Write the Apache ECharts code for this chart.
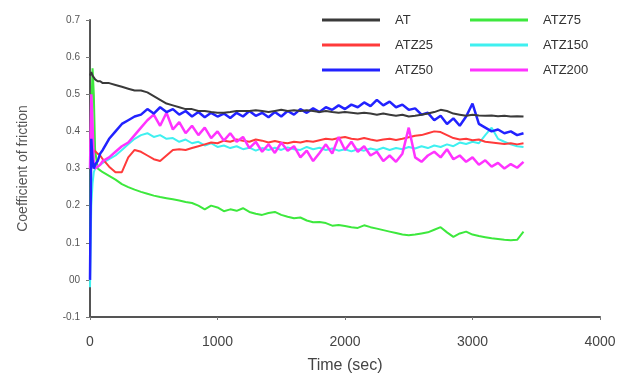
<!DOCTYPE html>
<html>
<head>
<meta charset="utf-8">
<script src="https://cdn.jsdelivr.net/npm/echarts@6/dist/echarts.min.js"></script>
<style>
  html, body { margin: 0; padding: 0; background: #fff; }
  #chart { width: 629px; height: 375px; }
</style>
</head>
<body>
<div id="chart"></div>
<script>
  // sample times (sec)
  const times = [
    0, 10, 20, 30, 40, 60, 80, 100, 150, 200,
    250, 300, 350, 400, 450, 500, 550, 600, 650, 700,
    750, 800, 850, 900, 950, 1000, 1050, 1100, 1150, 1200,
    1250, 1300, 1350, 1400, 1450, 1500, 1550, 1600, 1650, 1700,
    1750, 1800, 1850, 1900, 1950, 2000, 2050, 2100, 2150, 2200,
    2250, 2300, 2350, 2400, 2450, 2500, 2550, 2600, 2650, 2700,
    2750, 2800, 2850, 2900, 2950, 3000, 3050, 3100, 3150, 3200,
    3250, 3300, 3350, 3400
  ];

  const atValues = [
    0.55, 0.56, 0.55, 0.545, 0.54, 0.535, 0.535, 0.53, 0.53, 0.525,
    0.52, 0.515, 0.51, 0.51, 0.505, 0.495, 0.485, 0.475, 0.47, 0.465,
    0.46, 0.46, 0.455, 0.455, 0.452, 0.45, 0.45, 0.452, 0.455, 0.455,
    0.455, 0.457, 0.455, 0.452, 0.455, 0.458, 0.455, 0.457, 0.455, 0.457,
    0.455, 0.452, 0.455, 0.452, 0.45, 0.452, 0.45, 0.448, 0.45, 0.448,
    0.445, 0.448, 0.445, 0.442, 0.445, 0.44, 0.442, 0.445, 0.448, 0.452,
    0.458, 0.455, 0.448, 0.445, 0.442, 0.445, 0.443, 0.442, 0.443, 0.441,
    0.442, 0.44, 0.441, 0.44
  ];

  const atz25Values = [
    0.30, 0.31, 0.33, 0.35, 0.345, 0.34, 0.335, 0.325, 0.305, 0.29,
    0.29, 0.33, 0.35, 0.345, 0.335, 0.325, 0.32, 0.335, 0.35, 0.352,
    0.35, 0.355, 0.36, 0.365, 0.37, 0.368, 0.375, 0.372, 0.378, 0.375,
    0.372, 0.378, 0.375, 0.37, 0.374, 0.37, 0.368, 0.372, 0.37, 0.374,
    0.372, 0.376, 0.38, 0.378, 0.382, 0.385, 0.38, 0.378, 0.382, 0.378,
    0.375, 0.378, 0.38, 0.377, 0.38, 0.384, 0.388, 0.39, 0.395, 0.4,
    0.398, 0.39, 0.382, 0.378, 0.38, 0.376, 0.378, 0.372, 0.37, 0.368,
    0.366, 0.368, 0.365, 0.368
  ];

  const atz50Values = [
    0.0, 0.38, 0.32, 0.30, 0.31, 0.32, 0.34, 0.35, 0.38, 0.40,
    0.42, 0.43, 0.44, 0.445, 0.46, 0.448, 0.465, 0.452, 0.46, 0.445,
    0.455, 0.44, 0.452, 0.438, 0.45, 0.44, 0.448, 0.436, 0.45, 0.44,
    0.455, 0.442, 0.45, 0.438, 0.452, 0.44, 0.455, 0.445, 0.46, 0.45,
    0.462, 0.452, 0.465, 0.458, 0.47, 0.46, 0.472, 0.465, 0.478, 0.468,
    0.485, 0.47, 0.48, 0.465, 0.472, 0.458, 0.462, 0.445, 0.45, 0.43,
    0.442, 0.42, 0.435, 0.415, 0.44, 0.475, 0.42, 0.41, 0.40, 0.405,
    0.395, 0.40, 0.39, 0.395
  ];

  const atz75Values = [
    0.10, 0.45, 0.57, 0.50, 0.35, 0.30, 0.295, 0.29, 0.28, 0.27,
    0.258, 0.25, 0.243, 0.237, 0.232, 0.227, 0.223, 0.22, 0.217, 0.214,
    0.21, 0.207, 0.20, 0.19, 0.20, 0.195, 0.185, 0.19, 0.186, 0.193,
    0.183, 0.178, 0.175, 0.18, 0.183, 0.175, 0.17, 0.166, 0.168, 0.16,
    0.155, 0.156, 0.153, 0.146, 0.148, 0.145, 0.142, 0.14, 0.147, 0.142,
    0.138, 0.134, 0.13, 0.126, 0.122, 0.12, 0.122, 0.125, 0.128, 0.135,
    0.142, 0.128, 0.116, 0.125, 0.13, 0.122, 0.118, 0.115, 0.112, 0.11,
    0.108, 0.107, 0.108, 0.13
  ];

  const atz150Values = [
    -0.02, 0.20, 0.26, 0.29, 0.30, 0.305, 0.31, 0.315, 0.325, 0.335,
    0.35, 0.365, 0.38, 0.39, 0.395, 0.385, 0.39, 0.38, 0.382, 0.372,
    0.378, 0.368, 0.372, 0.362, 0.368, 0.358, 0.362, 0.355, 0.36, 0.352,
    0.356, 0.348, 0.355, 0.35, 0.356, 0.35, 0.357, 0.352, 0.35, 0.358,
    0.352, 0.356, 0.35, 0.354, 0.348, 0.352, 0.346, 0.352, 0.348, 0.354,
    0.35, 0.356, 0.35, 0.355, 0.352, 0.358, 0.354, 0.36, 0.355, 0.362,
    0.358, 0.365, 0.36, 0.37, 0.366, 0.372, 0.368, 0.39, 0.41, 0.38,
    0.372, 0.365, 0.36, 0.358
  ];

  const atz200Values = [
    0.30, 0.50, 0.42, 0.31, 0.30, 0.305, 0.31, 0.32, 0.33, 0.345,
    0.36, 0.37, 0.39, 0.41, 0.43, 0.445, 0.415, 0.45, 0.405, 0.425,
    0.395, 0.415, 0.39, 0.41, 0.382, 0.40, 0.375, 0.395, 0.372, 0.385,
    0.355, 0.372, 0.345, 0.365, 0.342, 0.37, 0.348, 0.36, 0.33, 0.348,
    0.32, 0.342, 0.365, 0.34, 0.385, 0.35, 0.372, 0.345, 0.36, 0.335,
    0.345, 0.32, 0.335, 0.318, 0.34, 0.41, 0.33, 0.318, 0.335, 0.345,
    0.33, 0.352, 0.325, 0.335, 0.318, 0.33, 0.31, 0.322, 0.305, 0.315,
    0.30, 0.312, 0.302, 0.318
  ];

  const yTickLabels = { "-0.1": "-0.1", "0": "00" };

  const chart = echarts.init(document.getElementById("chart"));
  const font = "Liberation Sans, Arial, sans-serif";

  function toPairs(values) {
    return times.map((t, i) => [t, values[i]]);
  }

  function lineSeries(name, values, color, width) {
    return {
      name,
      type: "line",
      symbol: "none",
      data: toPairs(values),
      lineStyle: { color, width: width || 2 },
      itemStyle: { color },
      animation: false
    };
  }

  const legendBase = {
    orient: "vertical",
    top: 8,
    icon: "rect",
    itemWidth: 58,
    itemHeight: 3,
    itemGap: 11,
    textStyle: { fontFamily: font, fontSize: 13, color: "#333", padding: [0, 0, 0, 10], lineHeight: 14 }
  };

  chart.setOption({
    backgroundColor: "#fff",
    animation: false,
    legend: [
      Object.assign({ left: 317, data: ["AT", "ATZ25", "ATZ50"] }, legendBase),
      Object.assign({ left: 465, data: ["ATZ75", "ATZ150", "ATZ200"] }, legendBase)
    ],
    grid: { left: 90, right: 29, top: 20, bottom: 58, outerBoundsMode: "none" },
    xAxis: {
      type: "value",
      min: 0,
      max: 4000,
      interval: 1000,
      name: "Time (sec)",
      nameLocation: "middle",
      nameGap: 41,
      nameTextStyle: { fontFamily: font, fontSize: 16, color: "#444" },
      axisLine: { onZero: false, lineStyle: { color: "#555", width: 2 } },
      axisTick: { show: true, length: 3, lineStyle: { color: "#777" } },
      axisLabel: {
        fontFamily: font,
        fontSize: 14,
        color: "#444",
        margin: 18,
        formatter(v) {
          return String(v);
        }
      },
      splitLine: { show: false }
    },
    yAxis: {
      type: "value",
      min: -0.1,
      max: 0.7,
      interval: 0.1,
      name: "Coefficient of friction",
      nameLocation: "middle",
      nameGap: 60,
      nameTextStyle: { fontFamily: font, fontSize: 14, color: "#555" },
      axisLine: { show: true, lineStyle: { color: "#555", width: 2 } },
      axisTick: { show: true, length: 4, lineStyle: { color: "#777" } },
      axisLabel: {
        fontFamily: font,
        fontSize: 10,
        color: "#555",
        margin: 10,
        formatter(v) {
          const key = String(Math.round(v * 10) / 10);
          return yTickLabels[key] || key;
        }
      },
      splitLine: { show: false }
    },
    series: [
      lineSeries("ATZ75", atz75Values, "#3de83d"),
      lineSeries("ATZ150", atz150Values, "#3ff0f0"),
      lineSeries("ATZ25", atz25Values, "#ff3a3a"),
      lineSeries("ATZ200", atz200Values, "#ff33ff", 2.5),
      lineSeries("ATZ50", atz50Values, "#2222ff", 2.5),
      lineSeries("AT", atValues, "#3a3a3a")
    ]
  });
</script>
</body>
</html>
